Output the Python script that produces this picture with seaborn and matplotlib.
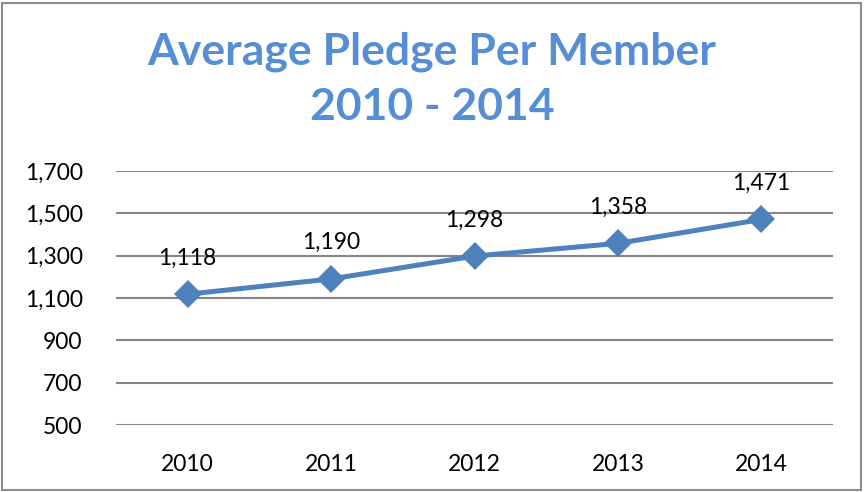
import matplotlib
matplotlib.use("Agg")
import matplotlib.pyplot as plt
import seaborn as sns
import pandas as pd
from matplotlib.patches import Rectangle

# data
years = ["2010", "2011", "2012", "2013", "2014"]
pledge = [1118, 1190, 1298, 1358, 1471]
y_ticks = [500, 700, 900, 1100, 1300, 1500, 1700]

sns.set_theme(style="white")
plt.rcParams['font.family'] = ['Lato', 'DejaVu Sans']

line_blue = "#4F81BD"
title_blue = "#558ED5"
grid_gray = "#868686"

df = pd.DataFrame({"Year": years, "Pledge": pledge})

fig = plt.figure(figsize=(8.64, 4.92), dpi=100)
ax = fig.add_axes([116 / 864, 1 - 425 / 492, (833 - 116) / 864, (425 - 171) / 492])

sns.lineplot(data=df, x="Year", y="Pledge", ax=ax, color=line_blue,
             linewidth=3.6, marker="D", markersize=14, markeredgewidth=0,
             sort=False)

ax.set_xlim(-0.5, 4.5)
ax.set_ylim(500, 1700)
ax.set_yticks(y_ticks)
ax.set_yticklabels([f"{v:,}" for v in y_ticks])
ax.yaxis.grid(True, color=grid_gray, linewidth=1.5)
ax.set_axisbelow(True)
for s in ax.spines.values():
    s.set_visible(False)
ax.tick_params(axis="y", length=0, pad=24, labelsize=16.5, labelcolor="black")
ax.tick_params(axis="x", length=0, pad=21, labelsize=16.5, labelcolor="black")
ax.set_xlabel("")
ax.set_ylabel("")

for i, v in enumerate(pledge):
    ax.annotate(f"{v:,}", (i, v), xytext=(0, 26), textcoords="offset points",
                ha="center", va="center", fontsize=16.5, color="black")

fig.text(0.5, 1 - 52 / 492, "Average Pledge Per Member", ha="center", va="center",
         fontsize=32, fontweight="bold", color=title_blue)
fig.text(0.5, 1 - 107 / 492, "2010 - 2014", ha="center", va="center",
         fontsize=32, fontweight="bold", color=title_blue)

# outer chart border
fig.patches.append(Rectangle((2 / 864, 2 / 492), 1 - 5 / 864, 1 - 5 / 492,
                             transform=fig.transFigure, fill=False,
                             edgecolor="#8C8C8C", linewidth=1.5))

fig.savefig("out.png", dpi=100)
